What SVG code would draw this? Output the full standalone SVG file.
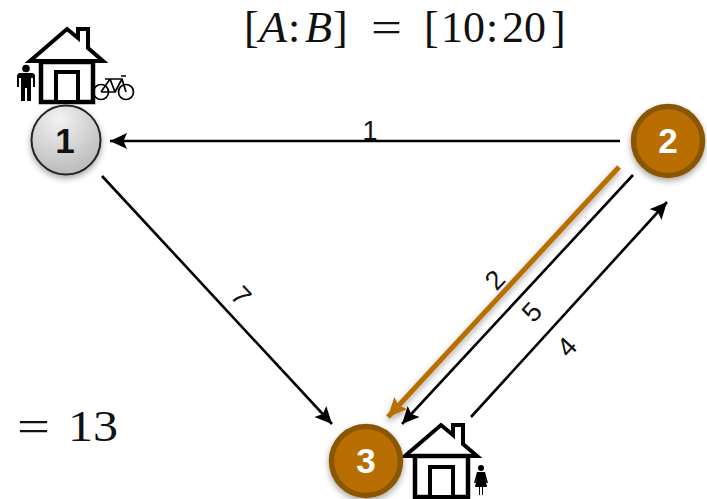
<svg xmlns="http://www.w3.org/2000/svg" width="707" height="499" viewBox="0 0 707 499">
<style>
.ln{stroke:#000;stroke-width:2.6;fill:none}
.house{fill:#fff;stroke:#000;stroke-linejoin:miter}
.num{font-family:"Liberation Sans",Arial,sans-serif;font-weight:700;font-size:35px;text-anchor:middle}
.lab{font-family:"Liberation Sans",Arial,sans-serif;font-size:27px;fill:#111;text-anchor:middle}
.math{font-family:"Liberation Serif","Times New Roman",serif;font-size:44px;fill:#111}
.it{font-style:italic}
.brown{fill:#b86e00;stroke:#8a5600;stroke-width:5.5}
.ic{fill:#000}
.bk{fill:none;stroke:#000;stroke-width:1.7}
</style>
<defs>
<marker id="ah" markerUnits="userSpaceOnUse" markerWidth="18" markerHeight="16" refX="17" refY="8" orient="auto"><path d="M0 0L17 8L0 16L3.500 8Z" fill="#000"/></marker>
<marker id="ahb" markerUnits="userSpaceOnUse" markerWidth="20" markerHeight="18" refX="19" refY="9" orient="auto"><path d="M0 0L19 9L0 18L3.500 9Z" fill="#b86e00"/></marker>
<radialGradient id="g1" cx="0.4" cy="0.2" r="0.9"><stop offset="0" stop-color="#f2f2f2"/><stop offset="1" stop-color="#b4b4b4"/></radialGradient>
<filter id="sh" x="-30%" y="-30%" width="160%" height="170%"><feDropShadow dx="0" dy="3" stdDeviation="3" flood-color="#000" flood-opacity="0.35"/></filter>
</defs>
<g id="connectors">
<path class="ln" d="M620 141L110 141" marker-end="url(#ah)"/>
<path class="ln" d="M102 176L332 424" marker-end="url(#ah)"/>
<path d="M619 167L388 417" stroke="#b86e00" stroke-width="5" fill="none" marker-end="url(#ahb)" filter="url(#sh)"/>
<path class="ln" d="M633 175L402 424" marker-end="url(#ah)"/>
<path class="ln" d="M471 417L667 202" marker-end="url(#ah)"/>
<text class="lab" x="370" y="140">1</text>
<text class="lab" transform="translate(241 296) rotate(47)" y="9">7</text>
<text class="lab" transform="translate(495 280) rotate(-47)" y="9">2</text>
<text class="lab" transform="translate(532 312) rotate(-47)" y="9">5</text>
<text class="lab" transform="translate(567 347) rotate(-47)" y="9">4</text>
</g>
<g id="node-1">
<path class="house" stroke-width="4" d="M30 61L67 29L78 38V29H88V48L103 61Z"/>
<rect class="house" stroke-width="4.500" x="41" y="62" width="52" height="40"/>
<rect class="house" stroke-width="4" x="56" y="72" width="22" height="30"/>
<g id="man" class="ic">
<circle cx="26" cy="68.500" r="3.800"/>
<path d="M19 73H33L35 75V87H33V78H31V101H27V88H25V101H21V78H19V87H17V75Z"/>
</g>
<g id="bike">
<circle class="bk" cx="101" cy="92" r="7.500"/>
<circle class="bk" cx="126" cy="92" r="7.500"/>
<path class="bk" d="M101 92L110 79H122L126 92M110 79L115 92H101M122 79L115 92M105 79H113M121 76H126"/>
</g>
<circle cx="66" cy="140" r="34.500" fill="url(#g1)" stroke="#222" stroke-width="2" filter="url(#sh)"/>
<text class="num" x="65" y="153" fill="#111">1</text>
</g>
<g id="node-2">
<circle class="brown" cx="668" cy="141" r="34.500" filter="url(#sh)"/>
<text class="num" x="668" y="153" fill="#fff">2</text>
</g>
<g id="node-3">
<path class="house" stroke-width="4" d="M405 456L441 425L453 435V425H463V444L477 456Z"/>
<rect class="house" stroke-width="4.500" x="415" y="456" width="53" height="41"/>
<rect class="house" stroke-width="4" x="430" y="467" width="23" height="30"/>
<g id="woman" class="ic">
<circle cx="481" cy="468" r="3"/>
<path d="M477 472H485L488 483H486.500L485 477L487 487H483V495H482V487H480V495H479V487H475L477 477L475.500 483H474Z"/>
</g>
<circle class="brown" cx="366" cy="461" r="34.500" filter="url(#sh)"/>
<text class="num" x="366" y="473" fill="#fff">3</text>
</g>
<g id="formula">
<text class="math" x="244" y="42">[</text>
<text class="math it" x="259" y="42" textLength="28" lengthAdjust="spacingAndGlyphs">A</text>
<text class="math" x="288" y="42">:</text>
<text class="math it" x="305" y="42" textLength="27" lengthAdjust="spacingAndGlyphs">B</text>
<text class="math" x="333" y="42">]</text>
<text class="math" x="371" y="42" textLength="31" lengthAdjust="spacingAndGlyphs">=</text>
<text class="math" x="424" y="42">[</text>
<text class="math" x="441" y="42" textLength="44" lengthAdjust="spacingAndGlyphs">10</text>
<text class="math" x="486" y="42">:</text>
<text class="math" x="502" y="42" textLength="44" lengthAdjust="spacingAndGlyphs">20</text>
<text class="math" x="551" y="42">]</text>
<text class="math" x="17" y="441" textLength="33" lengthAdjust="spacingAndGlyphs">=</text>
<text class="math" x="68" y="441" textLength="50" lengthAdjust="spacingAndGlyphs">13</text>
</g>
</svg>
